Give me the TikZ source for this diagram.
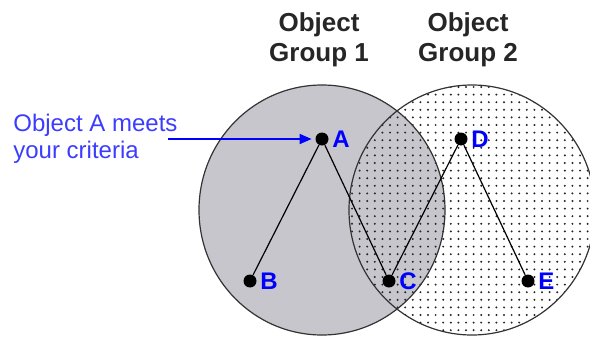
\documentclass[tikz,border=0pt]{standalone}
\usepackage{fontspec}
\setmainfont{Liberation Sans}
\usetikzlibrary{arrows.meta}
\definecolor{groupgray}{RGB}{198,198,204}
\definecolor{capblue}{RGB}{60,60,255}
\begin{document}
\begin{tikzpicture}[x=0.5pt,y=-0.5pt]
    \tikzstyle{obj}=[circle,fill=black,inner sep=0pt,minimum size=6.5pt]
    \tikzstyle{lbl}=[text=blue,font=\fontsize{12}{14}\selectfont\bfseries,inner sep=1.5pt]
    \tikzstyle{group}=[font=\fontsize{13}{15}\selectfont\bfseries,align=center,text=black!85]
    \tikzstyle{rim}=[draw=black!80,line width=0.6pt]
    \useasboundingbox (0,0) rectangle (590,337);
    \clip (0,0) rectangle (590,337);

    \fill[groupgray] (322,210) ellipse (123 and 125);
    \begin{scope}
        \clip (472,210) ellipse (123 and 125);
        \foreach \x in {0,...,32}
            \foreach \y in {0,...,33}
                \fill[black!85] (352+7.6*\x,87+7.6*\y) circle (1.1);
    \end{scope}
    \draw[rim] (322,210) ellipse (123 and 125);
    \draw[rim] (472,210) ellipse (123 and 125);

    \node[group] (g1) at (319,40) {Object\\Group 1};
    \node[group] (g2) at (468,40) {Object\\Group 2};

    \node[obj,label={[lbl]east:A}] (a) at (322,139) {};
    \node[obj,label={[lbl]east:B}] (b) at (250,281) {};
    \node[obj,label={[lbl]east:C}] (c) at (389,281) {};
    \node[obj,label={[lbl]east:D}] (d) at (461,139) {};
    \node[obj,label={[lbl]east:E}] (e) at (528,281) {};
    \draw[line width=0.6pt] (a) -- (b)
                            (a) -- (c)
                            (d) -- (c)
                            (d) -- (e);

    \node[text=capblue,font=\fontsize{12}{13.5}\selectfont,align=left,anchor=west,inner sep=0pt] (crit) at (13,139) {Object A meets\\your criteria};
    \draw[blue,line width=0.8pt,-{Triangle[length=6pt,width=5pt]},shorten >=1.75pt] ([xshift=-5pt]crit.east) -- (a);

\end{tikzpicture}
\end{document}
